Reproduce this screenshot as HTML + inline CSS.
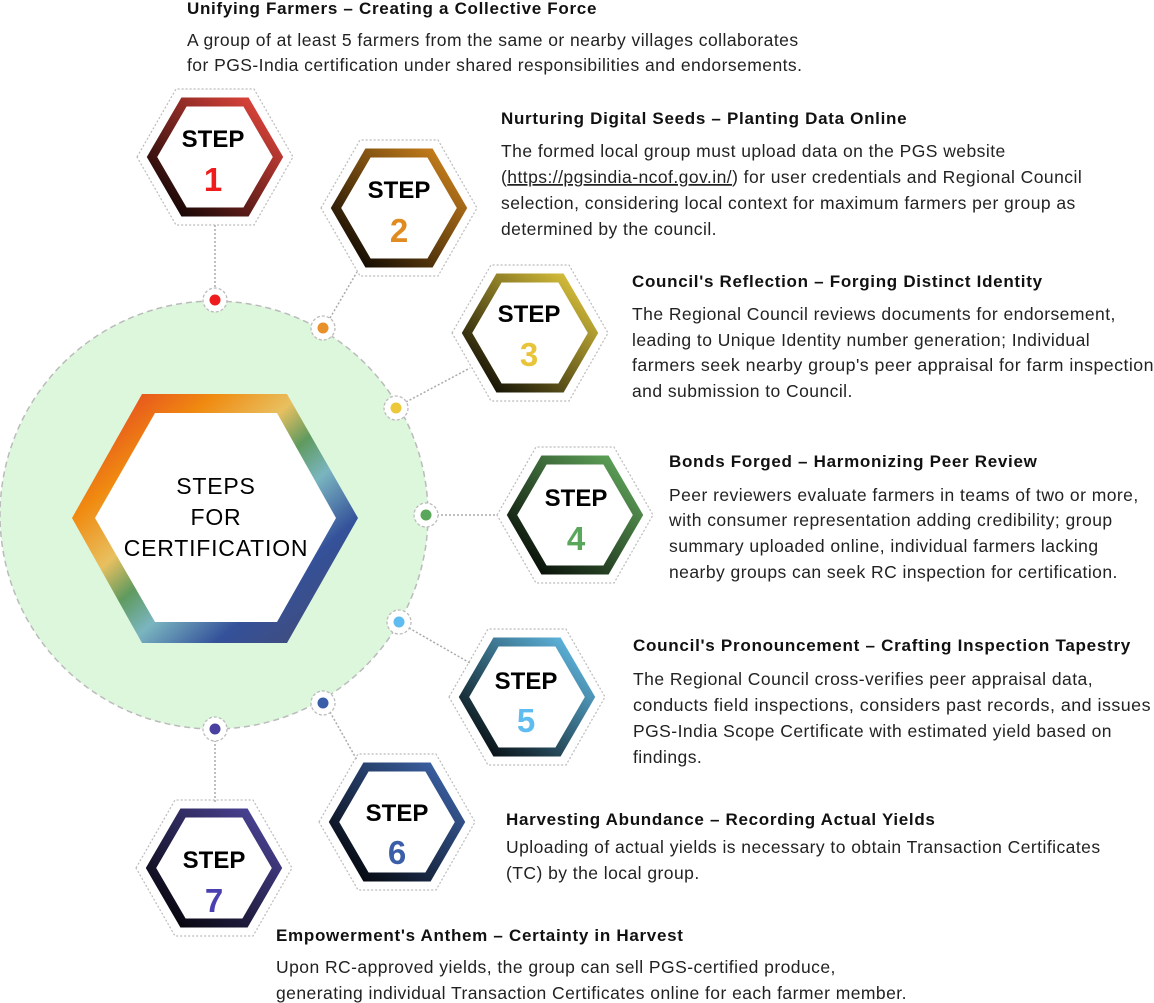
<!DOCTYPE html>
<html><head><meta charset="utf-8"><style>
html,body{margin:0;padding:0;background:#fff;}
svg{display:block;}
.t{font-family:"Liberation Sans",sans-serif;font-weight:bold;font-size:17px;letter-spacing:0.7px;fill:#111;}
.b{font-family:"Liberation Sans",sans-serif;font-size:17.5px;letter-spacing:0.45px;fill:#222;}
.s{font-family:"Liberation Sans",sans-serif;font-weight:bold;font-size:24px;fill:#000;text-anchor:middle;}
.n{font-family:"Liberation Sans",sans-serif;font-weight:bold;font-size:33px;text-anchor:middle;}
.c{font-family:"Liberation Sans",sans-serif;font-size:23px;fill:#000;text-anchor:middle;letter-spacing:0.8px;}
</style></head><body>
<svg width="1154" height="1003" viewBox="0 0 1154 1003" xmlns="http://www.w3.org/2000/svg">
<defs>
<linearGradient id="cg" x1="0" y1="0" x2="1" y2="1">
<stop offset="0" stop-color="#e02a2a"/><stop offset="0.25" stop-color="#f08a10"/><stop offset="0.4" stop-color="#e8c060"/>
<stop offset="0.5" stop-color="#5f9a5f"/><stop offset="0.6" stop-color="#7ab5c0"/><stop offset="0.75" stop-color="#34519a"/><stop offset="1" stop-color="#4a4a6a"/>
</linearGradient>
<linearGradient id="g1" x1="1" y1="0" x2="0" y2="1"><stop offset="0" stop-color="#f04a40"/><stop offset="1" stop-color="#000"/></linearGradient>
<linearGradient id="g2" x1="1" y1="0" x2="0" y2="1"><stop offset="0" stop-color="#d8891e"/><stop offset="1" stop-color="#000"/></linearGradient>
<linearGradient id="g3" x1="1" y1="0" x2="0" y2="1"><stop offset="0" stop-color="#ead040"/><stop offset="1" stop-color="#000"/></linearGradient>
<linearGradient id="g4" x1="1" y1="0" x2="0" y2="1"><stop offset="0" stop-color="#66b060"/><stop offset="1" stop-color="#000"/></linearGradient>
<linearGradient id="g5" x1="1" y1="0" x2="0" y2="1"><stop offset="0" stop-color="#66c4f0"/><stop offset="1" stop-color="#000"/></linearGradient>
<linearGradient id="g6" x1="1" y1="0" x2="0" y2="1"><stop offset="0" stop-color="#4068b0"/><stop offset="1" stop-color="#000"/></linearGradient>
<linearGradient id="g7" x1="1" y1="0" x2="0" y2="1"><stop offset="0" stop-color="#5048a0"/><stop offset="1" stop-color="#000"/></linearGradient>
</defs>

<circle cx="214" cy="515" r="214" fill="#ddf7dd" stroke="#bbb" stroke-width="1.5" stroke-dasharray="6 4"/>
<polygon points="72,518 142,394 287,394 358,518 287,643 142,643" fill="url(#cg)"/>
<polygon points="95,518 155,413 277,413 336,518 277,622 155,622" fill="#fff"/>
<text class="c" x="216" y="494">STEPS</text>
<text class="c" x="216" y="525">FOR</text>
<text class="c" x="216" y="556">CERTIFICATION</text>

<g stroke="#aaa" stroke-width="1.5" stroke-dasharray="2 2" fill="none">
<line x1="215" y1="225" x2="215" y2="289"/>
<line x1="330" y1="318" x2="357" y2="272"/>
<line x1="406" y1="402" x2="470" y2="368"/>
<line x1="437" y1="515" x2="497" y2="515"/>
<line x1="409" y1="628" x2="470" y2="663"/>
<line x1="330" y1="712" x2="357" y2="760"/>
<line x1="215" y1="740" x2="215" y2="803"/>
</g>

<g stroke="#bbb" stroke-width="1.3" stroke-dasharray="3 2" fill="#fff">
<circle cx="215" cy="300" r="12"/><circle cx="323" cy="328" r="12"/><circle cx="396" cy="408" r="12"/>
<circle cx="426" cy="515" r="12"/><circle cx="399" cy="622" r="12"/><circle cx="323" cy="703" r="12"/><circle cx="215" cy="729" r="12"/>
</g>
<circle cx="215" cy="300" r="5.5" fill="#ee1c1c"/><circle cx="323" cy="328" r="5.5" fill="#e8902a"/>
<circle cx="396" cy="408" r="5.5" fill="#ecc83a"/><circle cx="426" cy="515" r="5.5" fill="#5aa65a"/>
<circle cx="399" cy="622" r="5.5" fill="#5ebcf0"/><circle cx="323" cy="703" r="5.5" fill="#3a5fa8"/>
<circle cx="215" cy="729" r="5.5" fill="#4a40a0"/>

<g fill="none" stroke="#bbb" stroke-width="1.2" stroke-dasharray="2 2">
<polygon points="137,157 176,89 254,89 293,157 254,225 176,225"/>
<polygon points="321,208 360,140 438,140 477,208 438,276 360,276"/>
<polygon points="452,333 491,265 569,265 608,333 569,401 491,401"/>
<polygon points="497,515 536,447 614,447 653,515 614,583 536,583"/>
<polygon points="449,697 488,629 566,629 605,697 566,765 488,765"/>
<polygon points="319,822 358,754 436,754 475,822 436,890 358,890"/>
<polygon points="136,868 175,800 253,800 292,868 253,936 175,936"/>
</g>
<g fill="#fff" stroke-width="9" stroke-linejoin="miter">
<polygon stroke="url(#g1)" points="152,157 184,102 246,102 278,157 246,212 184,212"/>
<polygon stroke="url(#g2)" points="336,208 368,153 430,153 462,208 430,263 368,263"/>
<polygon stroke="url(#g3)" points="467,333 499,278 561,278 593,333 561,388 499,388"/>
<polygon stroke="url(#g4)" points="512,515 544,460 606,460 638,515 606,570 544,570"/>
<polygon stroke="url(#g5)" points="464,697 496,642 558,642 590,697 558,752 496,752"/>
<polygon stroke="url(#g6)" points="334,822 366,767 428,767 460,822 428,877 366,877"/>
<polygon stroke="url(#g7)" points="151,868 183,813 245,813 277,868 245,923 183,923"/>
</g>
<text class="s" x="213" y="147">STEP</text><text class="n" x="213" y="191" fill="#ee1c1c">1</text>
<text class="s" x="399" y="198">STEP</text><text class="n" x="399" y="242" fill="#e08a22">2</text>
<text class="s" x="529" y="322">STEP</text><text class="n" x="529" y="366" fill="#e8c43a">3</text>
<text class="s" x="576" y="506">STEP</text><text class="n" x="576" y="550" fill="#5aa65a">4</text>
<text class="s" x="526" y="689">STEP</text><text class="n" x="526" y="732" fill="#5ebcf0">5</text>
<text class="s" x="397" y="821">STEP</text><text class="n" x="397" y="864" fill="#3a5fa8">6</text>
<text class="s" x="214" y="868">STEP</text><text class="n" x="214" y="912" fill="#4a40b0">7</text>

<text class="t" x="187" y="14">Unifying Farmers – Creating a Collective Force</text>
<text class="b" x="187" y="46">A group of at least 5 farmers from the same or nearby villages collaborates</text>
<text class="b" x="187" y="71">for PGS-India certification under shared responsibilities and endorsements.</text>

<text class="t" x="501" y="124">Nurturing Digital Seeds – Planting Data Online</text>
<text class="b" x="501" y="157">The formed local group must upload data on the PGS website</text>
<text class="b" x="501" y="183">(<tspan text-decoration="underline">https://pgsindia-ncof.gov.in/</tspan>) for user credentials and Regional Council</text>
<text class="b" x="501" y="209">selection, considering local context for maximum farmers per group as</text>
<text class="b" x="501" y="235">determined by the council.</text>

<text class="t" x="632" y="287">Council's Reflection – Forging Distinct Identity</text>
<text class="b" x="632" y="320">The Regional Council reviews documents for endorsement,</text>
<text class="b" x="632" y="346">leading to Unique Identity number generation; Individual</text>
<text class="b" x="632" y="371" textLength="522" lengthAdjust="spacingAndGlyphs">farmers seek nearby group's peer appraisal for farm inspection</text>
<text class="b" x="632" y="397">and submission to Council.</text>

<text class="t" x="669" y="467">Bonds Forged – Harmonizing Peer Review</text>
<text class="b" x="669" y="501">Peer reviewers evaluate farmers in teams of two or more,</text>
<text class="b" x="669" y="526">with consumer representation adding credibility; group</text>
<text class="b" x="669" y="552">summary uploaded online, individual farmers lacking</text>
<text class="b" x="669" y="578">nearby groups can seek RC inspection for certification.</text>

<text class="t" x="633" y="651" textLength="498" lengthAdjust="spacingAndGlyphs">Council's Pronouncement – Crafting Inspection Tapestry</text>
<text class="b" x="633" y="685">The Regional Council cross-verifies peer appraisal data,</text>
<text class="b" x="633" y="711" textLength="518" lengthAdjust="spacingAndGlyphs">conducts field inspections, considers past records, and issues</text>
<text class="b" x="633" y="737">PGS-India Scope Certificate with estimated yield based on</text>
<text class="b" x="633" y="763">findings.</text>

<text class="t" x="506" y="825">Harvesting Abundance – Recording Actual Yields</text>
<text class="b" x="506" y="853">Uploading of actual yields is necessary to obtain Transaction Certificates</text>
<text class="b" x="506" y="879">(TC) by the local group.</text>

<text class="t" x="276" y="941">Empowerment's Anthem – Certainty in Harvest</text>
<text class="b" x="276" y="973">Upon RC-approved yields, the group can sell PGS-certified produce,</text>
<text class="b" x="276" y="999">generating individual Transaction Certificates online for each farmer member.</text>
</svg>
</body></html>
